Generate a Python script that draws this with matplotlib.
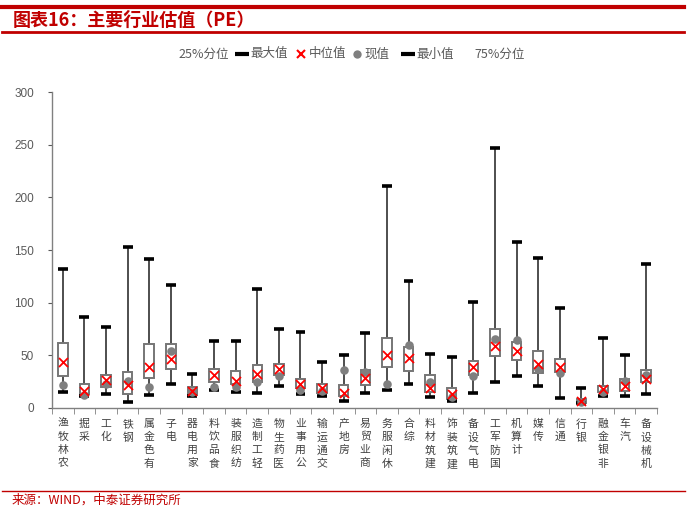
import matplotlib.pyplot as plt
from matplotlib.lines import Line2D

plt.rcParams['font.family'] = ['Noto Sans CJK SC', 'DejaVu Sans']

# 行业与PE分位数据
industries = ["农林牧渔", "采掘", "化工", "钢铁", "有色金属", "电子", "家用电器", "食品饮料",
              "纺织服装", "轻工制造", "医药生物", "公用事业", "交通运输", "房地产", "商业贸易",
              "休闲服务", "综合", "建筑材料", "建筑装饰", "电气设备", "国防军工", "计算机",
              "传媒", "通信", "银行", "非银金融", "汽车", "机械设备"]
pe_max = [132, 86, 76.5, 152.6, 141, 116.4, 32.4, 63.2, 63.2, 113.2, 74.9, 71.7, 43.2, 50.4,
          71, 210.6, 120.5, 50.8, 48, 100.3, 246.8, 157.4, 142.1, 95.2, 18.7, 66, 49.8, 136.4]
pe_q3 = [61.6, 22.2, 31.4, 33.7, 60.3, 60.3, 19.4, 36.5, 35.2, 40.3, 41.9, 27, 22.8, 21.3,
         36.2, 66.3, 57.8, 30.8, 18.4, 44.7, 74.9, 62.5, 53.7, 46.6, 8, 20.4, 27.6, 36.2]
pe_median = [43.5, 16.2, 26, 21.3, 39, 46.6, 15.6, 31, 25.4, 32, 36.8, 22.5, 18.4, 14.3,
             28, 50.1, 47, 19, 12.7, 38.4, 59, 54, 41.3, 38.7, 6.7, 17.5, 20.6, 27.6]
pe_q1 = [30.2, 12.7, 20, 13, 28.3, 36.5, 12.4, 24.7, 22.5, 24.7, 31.4, 18.4, 14.3, 10.8,
         21.3, 38.7, 34.6, 14.6, 8.3, 31.1, 49.2, 45.1, 32.7, 33.7, 4.2, 14.6, 15.9, 24.5]
pe_min = [14.6, 11, 13, 5.4, 12, 22.3, 10.8, 16.8, 14.6, 14, 20.4, 13.3, 10.8, 6.7,
          13.7, 17.1, 22.8, 10.2, 6.7, 14.3, 24.2, 30.4, 20.4, 8.9, 4.2, 10.8, 10.8, 13]
pe_now = [21.6, 12, 23, 25.4, 20, 54.2, 15.2, 20, 20, 24.5, 30.2, 16.8, 16.2, 35.6,
          33.7, 22.5, 60, 24.5, 10.5, 30.4, 65.4, 64.7, 37.1, 32.7, 5.7, 15.2, 25.4, 31.4]

W, H = 687, 511
fig = plt.figure(figsize=(W / 100, H / 100), dpi=100)
ax = fig.add_axes([52 / W, 1 - 407.7 / H, (657 - 52) / W, (407.7 - 92.3) / H])

x = list(range(len(industries)))
ax.vlines(x, pe_min, pe_max, color='#404040', lw=1.3, zorder=1)
heights = [a - b for a, b in zip(pe_q3, pe_q1)]
ax.bar(x, heights, bottom=pe_q1, width=0.44, facecolor='white', edgecolor='#767676',
       lw=1.4, zorder=2)
for i in x:
    ax.hlines([pe_min[i], pe_max[i]], i - 0.23, i + 0.23, color='black', lw=2.6, zorder=3)
ax.scatter(x, pe_now, marker='o', color='#7f7f7f', s=38, zorder=4, linewidths=0)
ax.scatter(x, pe_median, marker='x', color='#ff0000', s=42, linewidths=1.3, zorder=5)

ax.set_xlim(-0.5, len(industries) - 0.5)
ax.set_ylim(0, 300)
ax.set_yticks(range(0, 301, 50))
ax.tick_params(axis='y', labelsize=8.5, colors='#595959', length=3, pad=10)
for lab in ax.get_yticklabels():
    lab.set_fontfamily(['Liberation Sans', 'DejaVu Sans'])

# x轴：类别之间的刻度，竖排标签
ax.set_xticks([i - 0.5 for i in range(len(industries) + 1)], minor=True)
ax.set_xticks(x)
ax.set_xticklabels(['\n'.join(reversed(name)) for name in industries], fontsize=7.8,
                   color='#404040', linespacing=1.38, va='top')
ax.tick_params(axis='x', which='major', length=0, pad=8)
ax.tick_params(axis='x', which='minor', length=4, color='#808080')

for s in ['top', 'right']:
    ax.spines[s].set_visible(False)
for s in ['left', 'bottom']:
    ax.spines[s].set_color('#808080')
    ax.spines[s].set_linewidth(1.0)

# 标题与红线
red = '#c00000'
fig.add_artist(Line2D([2 / W, 684 / W], [1 - 7 / H, 1 - 7 / H], color=red, lw=3))
fig.add_artist(Line2D([2 / W, 684 / W], [1 - 32 / H, 1 - 32 / H], color=red, lw=2))
fig.text(13 / W, 1 - 20 / H, "图表16：主要行业估值（PE）", color=red, fontsize=13,
         fontweight='bold', va='center', ha='left')

# 图例
ly = 1 - 54 / H
lc = '#595959'
fig.text(178 / W, ly, "25%分位", color=lc, fontsize=9, va='center')
fig.add_artist(Line2D([242 / W], [ly], marker='_', color='black', markersize=10, mew=3))
fig.text(250 / W, ly, "最大值", color=lc, fontsize=9, va='center')
fig.add_artist(Line2D([301 / W], [ly], marker='x', color='#ff0000', markersize=6, mew=1.5))
fig.text(309 / W, ly, "中位值", color=lc, fontsize=9, va='center')
fig.add_artist(Line2D([357 / W], [ly], marker='o', color='#7f7f7f', markersize=6, mew=0))
fig.text(364 / W, ly, "现值", color=lc, fontsize=9, va='center')
fig.add_artist(Line2D([408 / W], [ly], marker='_', color='black', markersize=10, mew=3))
fig.text(416 / W, ly, "最小值", color=lc, fontsize=9, va='center')
fig.text(474 / W, ly, "75%分位", color=lc, fontsize=9, va='center')

# 底部来源
fig.add_artist(Line2D([2 / W, 685 / W], [1 - 490.5 / H, 1 - 490.5 / H], color=red, lw=1))
fig.text(12 / W, 1 - 500 / H, "来源：WIND，中泰证券研究所", color=red, fontsize=9,
         va='center', ha='left')

fig.savefig('out.png', dpi=100)
